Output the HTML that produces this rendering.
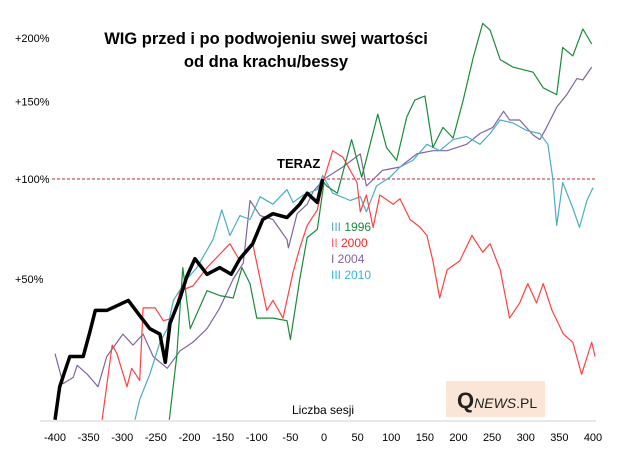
<!DOCTYPE html>
<html><head><meta charset="utf-8">
<style>
body{margin:0;background:#fff;}
svg text{font-family:"Liberation Sans",sans-serif;}
</style></head>
<body>
<svg id="chart" width="632" height="454" xmlns="http://www.w3.org/2000/svg">
<rect width="632" height="454" fill="#fff"/>
<g id="yaxis"></g>
<line x1="52" y1="179" x2="596" y2="179" stroke="#c0282d" stroke-width="1" stroke-dasharray="3,2"/>
<line x1="40" y1="421" x2="596" y2="421" stroke="#d0d0d0" stroke-width="1"/>
<g id="series"></g>
<g id="xaxis"></g>
<text x="266" y="44" text-anchor="middle" font-size="16.5" font-weight="bold">WIG przed i po podwojeniu swej wartości</text>
<text x="266" y="67" text-anchor="middle" font-size="16.5" font-weight="bold">od dna krachu/bessy</text>
<text x="277" y="168" font-size="13" font-weight="bold">TERAZ</text>
<g font-size="12">
<text x="331" y="231" fill="#1a8a3a"><tspan fill="#4bacc6">III</tspan> 1996</text>
<text x="331" y="247" fill="#ff2020"><tspan fill="#ff6060">II</tspan> 2000</text>
<text x="331" y="263" fill="#8064a2">I 2004</text>
<text x="331" y="279" fill="#33b5e5">III 2010</text>
</g>
<text x="292" y="414" font-size="12">Liczba sesji</text>
<g>
<rect x="446" y="381" width="99" height="36" fill="#fbe5d6"/>
<text x="457" y="408" font-family="Liberation Serif,serif" font-size="22" font-weight="bold" fill="#222">Q<tspan font-size="14" font-style="italic" font-weight="normal" font-family="Liberation Sans,sans-serif">NEWS</tspan><tspan font-size="14" font-weight="normal" font-family="Liberation Sans,sans-serif">.PL</tspan></text>
</g>
</svg>
<script>
const xTicks=[-400,-350,-300,-250,-200,-150,-100,-50,0,50,100,150,200,250,300,350,400];
const yTicks=[50,100,150,200];
const yTickLabels=["+50%","+100%","+150%","+200%"];
const s1996=[-230,-219,-210,-199,-174,-155,-135,-122,-110,-100,-76,-55,-50,-36,-25,-10,0,4,20,41,56,80,93,108,123,135,150,162,177,192,207,222,236,247,262,281,311,326,346,355,370,385,398];
const v1996=[0,20,55,30,45,43,42,55,48,34,34,33,26,50,69,73,98,96,92,124,101,141,119,111,139,151,154,119,132,125,151,184,213,207,182,176,172,160,155,192,185,208,195];
const s2000=[-330,-315,-308,-293,-286,-274,-269,-251,-239,-224,-214,-195,-174,-140,-125,-106,-95,-85,-76,-61,-46,-36,-25,-10,0,13,28,49,54,63,73,83,103,113,128,143,153,162,172,183,202,220,236,247,262,276,291,303,316,326,339,356,370,383,398,403];
const v2000=[0,24,21,10,16,12,38,38,33,34,45,47,55,66,58,66,50,37,41,34,53,64,75,83,100,117,113,98,82,91,74,91,86,89,78,74,70,58,42,54,58,70,62,66,54,34,40,48,40,48,37,28,25,14,25,20];
const s2004=[-400,-388,-373,-367,-352,-336,-323,-299,-284,-269,-254,-233,-214,-195,-174,-155,-135,-120,-110,-95,-76,-55,-53,-40,-25,-16,0,28,54,63,87,113,138,162,183,212,232,251,267,276,291,311,321,331,346,361,376,385,398];
const v2004=[21,11,13,17,14,10,20,28,24,28,20,16,22,25,30,38,50,57,88,80,78,68,64,81,86,93,100,107,115,96,105,107,115,117,117,121,128,132,143,137,137,127,124,132,146,155,167,166,176];
const s2010=[-281,-274,-259,-244,-233,-224,-204,-189,-174,-165,-152,-140,-125,-110,-95,-76,-55,-46,-31,-10,-2,13,39,54,63,78,98,113,132,153,172,192,212,232,247,262,281,301,321,333,340,346,355,370,380,391,400];
const v2010=[0,6,14,25,30,41,50,55,63,68,83,70,80,78,90,86,94,87,91,94,102,92,88,90,82,96,101,107,111,121,117,124,126,121,128,137,135,130,128,121,101,75,98,84,74,88,95];
const sNow=[-400,-393,-378,-358,-348,-340,-323,-291,-274,-259,-244,-236,-229,-214,-204,-192,-174,-155,-138,-125,-106,-91,-76,-55,-36,-25,-10,-2];
const vNow=[0,10,20,20,29,37,37,41,35,30,28,18,32,42,51,59,52,55,52,59,66,78,81,79,86,92,87,100];

const X0=324,XS=0.6725;
function xPos(s){return X0+XS*s;}
function yPos(v){return 179-800*Math.log10((100+v)/200);}
const NS="http://www.w3.org/2000/svg";
const yg=document.getElementById('yaxis');
yTicks.forEach((t,i)=>{
  const tx=document.createElementNS(NS,'text');
  
  
  tx.setAttribute('x',15);tx.setAttribute('y',yPos(t)+4);tx.setAttribute('font-size','11');
  tx.textContent=yTickLabels[i];yg.appendChild(tx);
});
const xg=document.getElementById('xaxis');
xTicks.forEach(t=>{
  const tx=document.createElementNS(NS,'text');
  
  
  tx.setAttribute('x',xPos(t));tx.setAttribute('y',441);tx.setAttribute('font-size','11');
  tx.setAttribute('text-anchor','middle');
  tx.textContent=t;xg.appendChild(tx);
});
const sg=document.getElementById('series');
function draw(ss,vs,color,w,name){
  const p=document.createElementNS(NS,'polyline');
  
  
  p.setAttribute('points',ss.map((s,i)=>xPos(s).toFixed(1)+','+yPos(vs[i]).toFixed(1)).join(' '));
  p.setAttribute('fill','none');p.setAttribute('stroke',color);p.setAttribute('stroke-width',w);
  p.setAttribute('stroke-linejoin','round');
  sg.appendChild(p);
}
draw(s2004,v2004,'#8064a2',1.2,'line-2004');
draw(s2010,v2010,'#4bacc6',1.2,'line-2010');
draw(s2000,v2000,'#ff4040',1.2,'line-2000');
draw(s1996,v1996,'#1a8a3a',1.2,'line-1996');
draw(sNow,vNow,'#000',3.5,'line-teraz');
</script>
</body></html>
